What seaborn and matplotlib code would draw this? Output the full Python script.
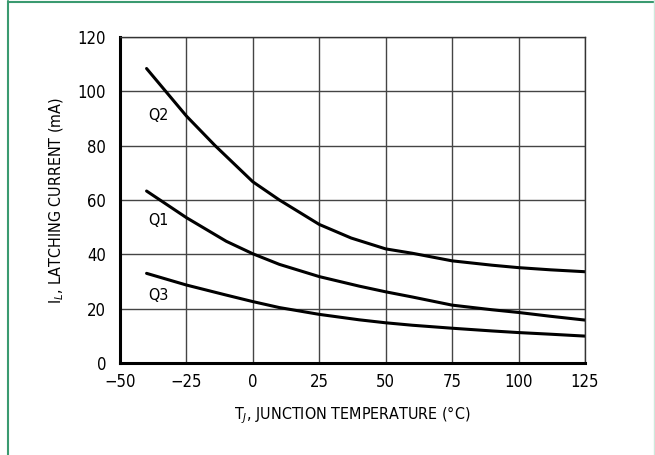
import matplotlib
matplotlib.use("Agg")
import matplotlib.pyplot as plt
import seaborn as sns
import pandas as pd
from matplotlib.lines import Line2D

temp_q2 = [-40, -25, -14.2, 0, 10, 25, 37, 50, 60, 75, 90, 100, 112, 125]
q2 = [108.4, 90.9, 80.0, 66.7, 60.0, 51.0, 46.0, 42.0, 40.4, 37.6, 36.0, 35.1, 34.3, 33.6]
temp = [-40, -25, -10, 0, 10, 25, 40, 50, 60, 75, 90, 100, 112, 125]
q1 = [63.3, 53.5, 44.8, 40.2, 36.3, 31.8, 28.3, 26.2, 24.3, 21.3, 19.6, 18.6, 17.2, 15.8]
q3 = [33.0, 28.7, 25.0, 22.6, 20.4, 17.9, 15.9, 14.8, 13.9, 12.8, 11.8, 11.2, 10.6, 9.9]
series_names = ["Q2", "Q1", "Q3"]
label_pos = [(-39.5, 91), (-39.5, 52.3), (-39.5, 25)]
xticks = [-50, -25, 0, 25, 50, 75, 100, 125]
yticks = [0, 20, 40, 60, 80, 100, 120]

df = pd.concat([
    pd.DataFrame({"T": temp_q2, "I": q2, "s": "Q2"}),
    pd.DataFrame({"T": temp, "I": q1, "s": "Q1"}),
    pd.DataFrame({"T": temp, "I": q3, "s": "Q3"}),
])

sns.set_style("white")
plt.rcParams["font.family"] = ["DejaVu Sans"]
plt.rcParams["font.stretch"] = "condensed"
plt.rcParams["text.color"] = "black"
plt.rcParams["axes.labelcolor"] = "black"

fig = plt.figure(figsize=(6.55, 4.55), dpi=100)
ax = fig.add_axes([120 / 655, 1 - 363 / 455, 465 / 655, 326 / 455])

sns.lineplot(data=df, x="T", y="I", units="s", estimator=None, color="black",
             linewidth=2.2, ax=ax, legend=False)

ax.set_xlim(-50, 125)
ax.set_ylim(0, 120)
ax.set_xticks(xticks)
ax.set_yticks(yticks)
ax.set_xticklabels(["\u221250" if v == -50 else ("\u221225" if v == -25 else str(v)) for v in xticks])
ax.set_yticklabels([str(v) for v in yticks])
ax.tick_params(axis="both", length=0, labelsize=12, colors="black")
ax.tick_params(axis="x", pad=7)
ax.tick_params(axis="y", pad=10)
ax.grid(True, color="#444444", linewidth=1.0)
ax.set_axisbelow(True)
for side in ["left", "bottom"]:
    ax.spines[side].set_linewidth(2.2)
    ax.spines[side].set_color("black")
for side in ["right", "top"]:
    ax.spines[side].set_linewidth(1.0)
    ax.spines[side].set_color("#333333")

for name, (xp, yp) in zip(series_names, label_pos):
    ax.text(xp, yp, name, fontsize=11.5, ha="left", va="center")

ax.set_xlabel("T$_J$, JUNCTION TEMPERATURE (\u00b0C)", fontsize=11.5, labelpad=10)
ax.set_ylabel("I$_L$, LATCHING CURRENT (mA)", fontsize=11.5, labelpad=8)

fig.add_artist(Line2D([8 / 655, 8 / 655], [0, 1 - 1 / 455], transform=fig.transFigure,
                      color="#3a9a70", linewidth=1.5))
fig.add_artist(Line2D([8 / 655, 1], [1 - 1.5 / 455, 1 - 1.5 / 455], transform=fig.transFigure,
                      color="#3a9a70", linewidth=1.5))
fig.add_artist(Line2D([654 / 655, 654 / 655], [0, 1], transform=fig.transFigure,
                      color="#cfe8dc", linewidth=1.0))

fig.savefig("out.png", dpi=100)
